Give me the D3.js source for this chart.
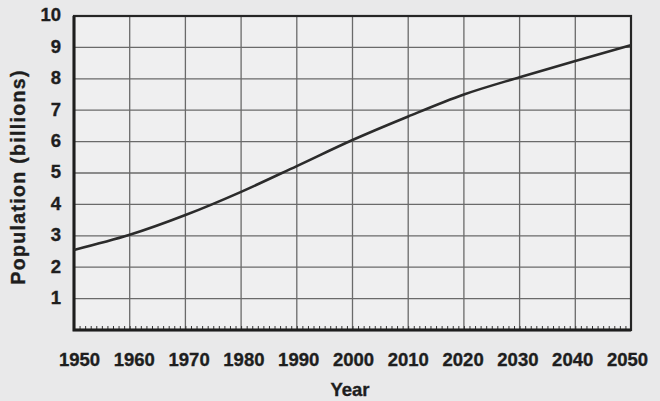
<!DOCTYPE html>
<html>
<head>
<meta charset="utf-8">
<script src="https://cdn.jsdelivr.net/npm/d3@7"></script>
<style>
  body { margin: 0; background: #e9e9ea; }
  svg { display: block; }
  text { font-family: "Liberation Sans", Arial, sans-serif; font-weight: bold; fill: #1e1e1e;
         stroke: #1e1e1e; stroke-width: 0.35px; }
</style>
</head>
<body>
<svg id="chart" width="660" height="401"></svg>
<script>
// --- Data ---
const years = [1950, 1960, 1970, 1980, 1990, 2000, 2010, 2020, 2030, 2040, 2050];
const population = [2.55, 3.03, 3.66, 4.4, 5.22, 6.05, 6.8, 7.5, 8.05, 8.57, 9.07];
const xTicks = [1950, 1960, 1970, 1980, 1990, 2000, 2010, 2020, 2030, 2040, 2050];
const yTicks = [1, 2, 3, 4, 5, 6, 7, 8, 9, 10];

const width = 660, height = 401;
const margin = { top: 16, right: 29, bottom: 71, left: 74 };
const fontSize = '18.5px';

const svg = d3.select('#chart');

const x = d3.scaleLinear()
    .domain([1950, 2050])
    .range([margin.left, width - margin.right]);

// tick labels in the scan sit slightly inside the grid at both ends
const xLabel = d3.scaleLinear()
    .domain([1950, 2050])
    .range([margin.left + 5, width - margin.right - 4]);

const y = d3.scaleLinear()
    .domain([0, 10])
    .range([height - margin.bottom, margin.top]);

// plot background
svg.append('rect')
    .attr('x', x(1950)).attr('y', y(10))
    .attr('width', x(2050) - x(1950)).attr('height', y(0) - y(10))
    .attr('fill', '#efeff0');

// Grid
svg.append('g')
    .selectAll('line')
    .data(xTicks.slice(1, -1))
    .join('line')
    .attr('x1', d => x(d)).attr('x2', d => x(d))
    .attr('y1', y(10)).attr('y2', y(0))
    .attr('stroke', '#6a6a6a').attr('stroke-width', 1.3);

svg.append('g')
    .selectAll('line')
    .data(yTicks.slice(0, -1))
    .join('line')
    .attr('x1', x(1950)).attr('x2', x(2050))
    .attr('y1', d => y(d)).attr('y2', d => y(d))
    .attr('stroke', '#6a6a6a').attr('stroke-width', 1.3);

// Minor yearly ticks along the bottom, pointing up
svg.append('g')
    .attr('transform', `translate(0,${y(0)})`)
    .call(d3.axisTop(x).ticks(100).tickSize(4).tickFormat(''))
    .call(g => g.select('.domain').remove())
    .selectAll('line').attr('stroke', '#333').attr('stroke-width', 1);

// Frame: heavier left and bottom
svg.append('rect')
    .attr('x', x(1950)).attr('y', y(10))
    .attr('width', x(2050) - x(1950)).attr('height', y(0) - y(10))
    .attr('fill', 'none').attr('stroke', '#252525').attr('stroke-width', 2.2);
svg.append('path')
    .attr('d', `M${x(1950)},${y(10)}V${y(0)}H${x(2050)}`)
    .attr('fill', 'none').attr('stroke', '#1e1e1e').attr('stroke-width', 3);

// Curve
const line = d3.line()
    .x((d, i) => x(years[i]))
    .y(d => y(d))
    .curve(d3.curveMonotoneX);

svg.append('path')
    .datum(population)
    .attr('d', line)
    .attr('fill', 'none')
    .attr('stroke', '#2b2b2b')
    .attr('stroke-width', 2.6);

// X tick labels
svg.append('g')
    .attr('transform', `translate(0,${y(0)})`)
    .call(d3.axisBottom(xLabel).tickValues(xTicks).tickFormat(d3.format('d')).tickSize(0).tickPadding(23))
    .call(g => g.select('.domain').remove())
    .call(g => g.attr('font-size', null).attr('font-family', null))
    .selectAll('text')
    .style('font-size', fontSize)
    .attr('fill', '#1e1e1e');

// Y tick labels
svg.append('g')
    .attr('transform', `translate(${x(1950)},0)`)
    .call(d3.axisLeft(y).tickValues(yTicks).tickSize(0).tickPadding(13))
    .call(g => g.select('.domain').remove())
    .call(g => g.attr('font-size', null).attr('font-family', null))
    .selectAll('text')
    .attr('dy', '0.26em')
    .style('font-size', fontSize)
    .attr('fill', '#1e1e1e');

// Axis titles
svg.append('text')
    .attr('x', 350)
    .attr('y', 396)
    .attr('text-anchor', 'middle')
    .style('font-size', fontSize)
    .text('Year');

svg.append('text')
    .attr('transform', `translate(25,177.5) rotate(-90)`)
    .attr('text-anchor', 'middle')
    .attr('textLength', 214)
    .attr('lengthAdjust', 'spacing')
    .style('font-size', '19.5px')
    .text('Population (billions)');
</script>
</body>
</html>
